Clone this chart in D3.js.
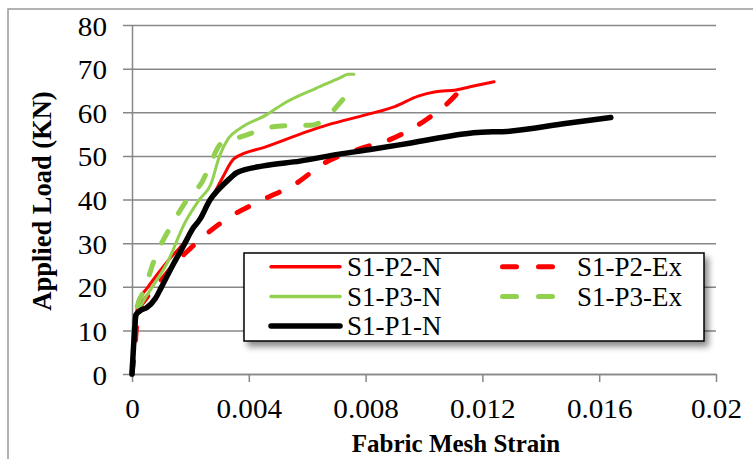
<!DOCTYPE html>
<html><head><meta charset="utf-8">
<script src="https://cdn.jsdelivr.net/npm/d3@7"></script>
<style>
html,body{margin:0;padding:0;background:#fff;}
svg{display:block;}
text{font-family:"Liberation Serif","Times New Roman",serif;}
</style></head>
<body>
<svg id="c" width="753" height="459"></svg>
<script>
// ---- data (strain, load kN) ----
const xTicks = [0, 0.004, 0.008, 0.012, 0.016, 0.02];
const xTickLabels = ["0", "0.004", "0.008", "0.012", "0.016", "0.02"];
const yTicks = [0, 10, 20, 30, 40, 50, 60, 70, 80];
const seriesNames = ["S1-P2-N", "S1-P2-Ex", "S1-P3-N", "S1-P3-Ex", "S1-P1-N"];

const s1p2N = [[0,0],[0.00008,8],[0.00015,13],[0.0002,16.5],[0.0005,19.5],[0.00085,22.7],[0.0013,26.5],[0.0018,30.3],[0.0023,35.5],[0.0027,40],[0.0031,45],[0.0035,49.4],[0.0046,52.1],[0.0061,55.8],[0.0067,57.1],[0.008,59.4],[0.009,61.3],[0.0098,63.7],[0.0104,64.7],[0.0111,65.1],[0.0117,66],[0.0124,67]];
const s1p2Ex = [[0,0],[0.0001,6],[0.0002,14],[0.0005,17.5],[0.001,21.5],[0.0015,25.5],[0.002,28.8],[0.0025,31.8],[0.0033,35.8],[0.0044,39.7],[0.0056,43.6],[0.0066,48.4],[0.0078,51.6],[0.009,54.2],[0.0101,58.4],[0.0108,62],[0.0113,65.5]];
const s1p3N = [[0,0],[0.0001,10],[0.0002,14],[0.0003,15.5],[0.0007,20],[0.0012,25.4],[0.0018,34.5],[0.0023,39.9],[0.0027,43.5],[0.003,50],[0.0033,54],[0.0037,56.3],[0.0046,59.4],[0.0053,62.4],[0.0063,65.5],[0.0071,67.8],[0.0074,68.7],[0.0076,68.7]];
const s1p3Ex = [[0,0],[0.00005,8],[0.0001,13],[0.0002,16],[0.0004,19],[0.0008,26.8],[0.0014,34.6],[0.002,41],[0.0024,44],[0.0027,48.4],[0.003,52.5],[0.0033,53.5],[0.0036,54.1],[0.005,56.8],[0.0062,57.1],[0.0067,59],[0.0071,62],[0.0073,63.5]];
const s1p1N = [[0,0],[0.00005,6],[0.0001,11],[0.00013,13.5],[0.0003,14.6],[0.0005,15.2],[0.0008,17.3],[0.001,19.8],[0.0014,25],[0.00175,29.2],[0.0021,33.5],[0.00233,35.5],[0.00267,39.9],[0.00295,42.2],[0.0033,44.5],[0.0036,46.2],[0.0045,47.7],[0.00575,48.8],[0.0071,50.4],[0.0081,51.4],[0.0095,52.9],[0.0117,55.3],[0.013,55.7],[0.0149,57.5],[0.0164,58.8]];

// ---- layout ----
const svg = d3.select("#c");
const L = 132, R = 716, T = 25, B = 374;
const x = d3.scaleLinear().domain([0, 0.02]).range([L, R]);
const y = d3.scaleLinear().domain([0, 80]).range([B, T]);
const GRID = "#878787";

const defs = svg.append("defs");
const f = defs.append("filter").attr("id","sh").attr("x","-10%").attr("y","-20%").attr("width","130%").attr("height","160%");
f.append("feDropShadow").attr("dx",4).attr("dy",5).attr("stdDeviation",3).attr("flood-color","#000").attr("flood-opacity",0.45);

// outer border
svg.append("rect").attr("x",8).attr("y",9).attr("width",900).attr("height",600)
  .attr("fill","none").attr("stroke","#999").attr("stroke-width",1.5);

// gridlines + y axis
const yAxis = d3.axisLeft(y).tickValues(yTicks).tickSizeInner(-(R - L) - 0).tickSizeOuter(0).tickPadding(0);
const gy = svg.append("g").attr("transform",`translate(${L},0)`).call(yAxis);
gy.select(".domain").attr("stroke",GRID).attr("stroke-width",1.5);
gy.selectAll(".tick line").attr("stroke",GRID).attr("stroke-width",1.5).attr("x1",-9).attr("x2",R-L);
gy.selectAll(".tick text").attr("font-size",27).attr("fill","#000")
  .attr("text-anchor","end").attr("x",-25/1.08).attr("dy",10).attr("transform","scale(1.08,1)")
  .style("font-family",'"Liberation Serif","Times New Roman",serif');

// x axis
const xAxis = d3.axisBottom(x).tickValues(xTicks).tickFormat((d,i)=>xTickLabels[i]).tickSizeInner(8).tickSizeOuter(0);
const gx = svg.append("g").attr("transform",`translate(0,${B})`).call(xAxis);
gx.select(".domain").attr("stroke",GRID).attr("stroke-width",1.5);
gx.selectAll(".tick line").attr("stroke",GRID).attr("stroke-width",1.5);
gx.selectAll(".tick text").attr("font-size",27).attr("fill","#000")
  .attr("y",44).attr("dy",0).attr("transform","scale(1.08,1)")
  .attr("x",function(){return 0;})
  .style("font-family",'"Liberation Serif","Times New Roman",serif');

// axis titles
svg.append("text").attr("transform","translate(51,201) rotate(-90)")
  .attr("text-anchor","middle").attr("font-weight","bold").attr("font-size",26.5).text("Applied Load (KN)");
svg.append("text").attr("x",456).attr("y",452)
  .attr("text-anchor","middle").attr("font-weight","bold").attr("font-size",25).text("Fabric Mesh Strain");

// series
const line = d3.line().x(d=>x(d[0])).y(d=>y(d[1])).curve(d3.curveMonotoneX);
const styles = [
  {data:s1p2N, color:"#FF0000", w:3, dash:null},
  {data:s1p2Ex, color:"#FF0000", w:5, dash:"13,21"},
  {data:s1p3N, color:"#92D050", w:3, dash:null},
  {data:s1p3Ex, color:"#92D050", w:5, dash:"13,21"},
  {data:s1p1N, color:"#000000", w:5.5, dash:null}
];
const gs = svg.append("g");
styles.forEach(s=>{
  const p = gs.append("path").attr("d",line(s.data)).attr("fill","none")
    .attr("stroke",s.color).attr("stroke-width",s.w)
    .attr("stroke-linecap","round").attr("stroke-linejoin","round");
  if (s.dash) p.attr("stroke-dasharray",s.dash);
});

// legend
const lg = svg.append("g");
lg.append("rect").attr("x",244).attr("y",253).attr("width",460).attr("height",88)
  .attr("fill","#fff").attr("stroke","#000").attr("stroke-width",1.5).attr("filter","url(#sh)");
const legendPos = [
  {i:0, lx:271, lx2:340, tx:347, row:0},
  {i:1, lx:502.5, lx2:553.5, tx:577, row:0},
  {i:2, lx:271, lx2:340, tx:347, row:1},
  {i:3, lx:502.5, lx2:553.5, tx:577, row:1},
  {i:4, lx:271, lx2:340, tx:347, row:2}
];
const rowLine = [266.7, 296.5, 326];
const rowText = [276, 305.5, 334.5];
legendPos.forEach(p=>{
  const s = styles[p.i];
  const l = lg.append("line").attr("x1",p.lx).attr("x2",p.lx2).attr("y1",rowLine[p.row]).attr("y2",rowLine[p.row])
    .attr("stroke",s.color).attr("stroke-width", s.dash ? 5 : (p.i===4 ? 5.5 : 3.5))
    .attr("stroke-linecap","round");
  if (s.dash) l.attr("stroke-dasharray","14,22");
  lg.append("text").attr("x",p.tx).attr("y",rowText[p.row]).attr("font-size",27).text(seriesNames[p.i]);
});
</script>
</body></html>
